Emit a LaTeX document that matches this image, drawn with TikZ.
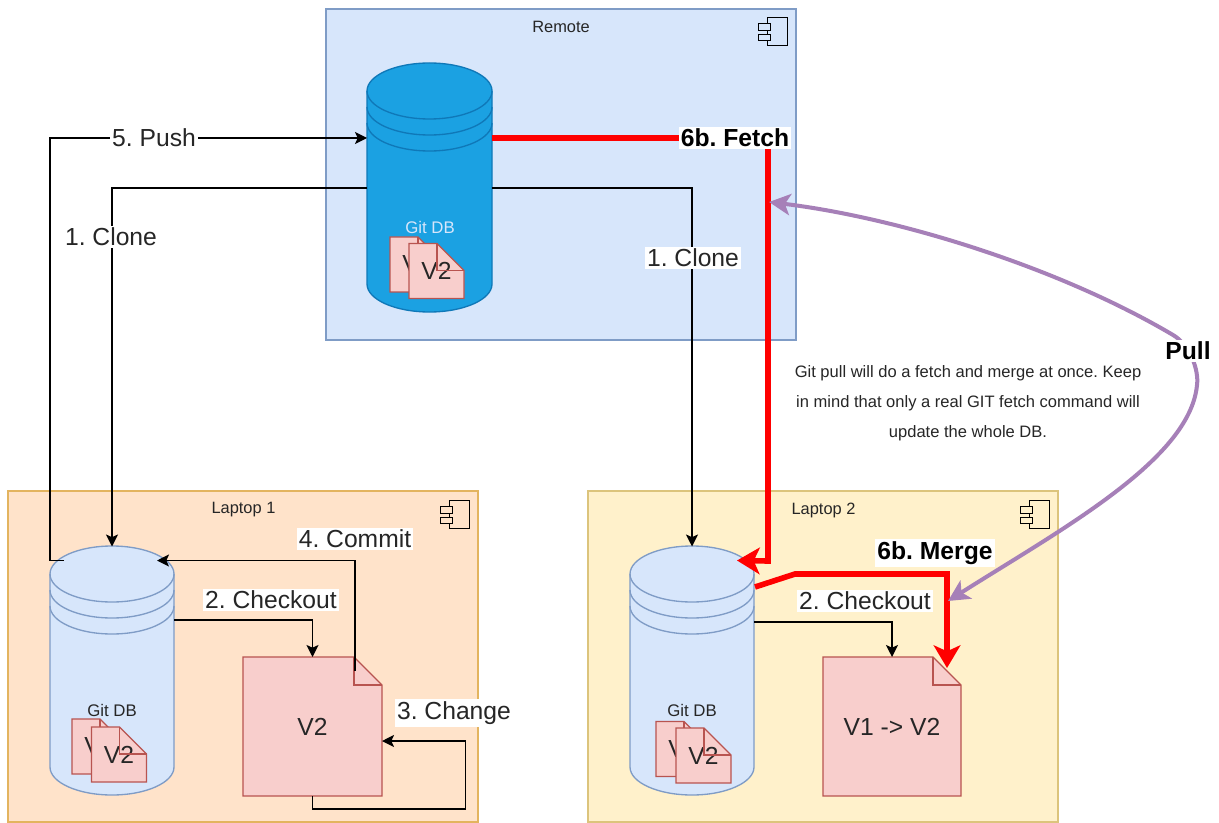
\documentclass[tikz,border=0pt]{standalone}
\usepackage{fontspec}
\setmainfont{Liberation Sans}
\frenchspacing
\usetikzlibrary{calc,arrows.meta}
\definecolor{blueF}{HTML}{D7E6FB}
\definecolor{blueS}{HTML}{7F9CC6}
\definecolor{orangeF}{HTML}{FFE3CA}
\definecolor{orangeS}{HTML}{E3B45F}
\definecolor{yellowF}{HTML}{FFF1CB}
\definecolor{yellowS}{HTML}{DCC47C}
\definecolor{cylS}{HTML}{0F78B8}
\definecolor{cylF}{HTML}{1BA1E2}
\definecolor{docF}{HTML}{F8CECC}
\definecolor{docS}{HTML}{B85450}
\definecolor{pullC}{HTML}{A680B8}
\definecolor{inkC}{HTML}{262626}
\tikzset{
  x=0.75pt,y=0.75pt,
  boxframe/.style={draw=#1,line width=1pt},
  anchorbox/.style={inner sep=0pt,outer sep=0pt},
  boxtitle/.style={font=\fontsize{12.3}{14}\selectfont,text=inkC,inner sep=0pt},
  dbtext/.style={font=\fontsize{12.6}{14}\selectfont,inner sep=0pt},
  doctext/.style={font=\fontsize{18.5}{20}\selectfont,text=inkC,inner sep=0pt},
  flow/.style={draw=black,line width=1.1pt,-{Stealth[length=9pt,width=9pt,inset=2pt]}},
  plainflow/.style={draw=black,line width=1.1pt},
  redflow/.style={draw=red,line width=4.2pt,line join=miter,-{Stealth[length=17pt,width=20pt,inset=4.5pt]}},
  pullflow/.style={draw=pullC,line width=3pt,{Stealth[length=16pt,width=16pt,inset=4pt]}-{Stealth[length=16pt,width=16pt,inset=4pt]}},
  steplabel/.style={font=\fontsize{18.5}{20}\selectfont,text=inkC,fill=white,inner sep=1.6pt},
  boldlabel/.style={font=\fontsize{18.5}{20}\selectfont\bfseries,text=black,fill=white,inner sep=1.6pt},
}
% #1 name, #2 x0, #3 y0 (top), #4 x1, #5 y1 (bottom), #6 fill, #7 stroke
\newcommand{\compbox}[7]{%
  \node[anchorbox,minimum width={(#4-#2)*0.75pt},minimum height={(#5-#3)*0.75pt},
        fill=#6,boxframe=#7] (#1) at ({(#2+#4)/2},{-(#3+#5)/2}) {};
  \begin{scope}[shift={(#1.north east)}]
    \draw[black,line width=0.75pt,fill=none] (-29,-9) rectangle (-9,-37);
    \draw[black,line width=0.75pt,fill=#6] (-38,-15) rectangle (-26,-22);
    \draw[black,line width=0.75pt,fill=#6] (-38,-26) rectangle (-26,-32);
  \end{scope}}
% #1 name, #2 cx, #3 cy, #4 half width, #5 fill, #6 stroke
\newcommand{\dbcyl}[6]{%
  \node[anchorbox,minimum width={2*#4*0.75pt},minimum height={249*0.75pt}] (#1) at (#2,-#3) {};
  \begin{scope}[shift={(#1.center)}]
    \draw[draw=#6,line width=1pt,fill=#5] (-#4,97) -- (-#4,-96)
       arc[start angle=180,end angle=360,x radius=#4,y radius=28] -- (#4,97)
       arc[start angle=0,end angle=180,x radius=#4,y radius=28] -- cycle;
    \draw[draw=#6,line width=1pt] (-#4,97) arc[start angle=180,end angle=360,x radius=#4,y radius=28];
    \draw[draw=#6,line width=1pt] (-#4,81) arc[start angle=180,end angle=360,x radius=#4,y radius=28];
    \draw[draw=#6,line width=1pt] (-#4,65) arc[start angle=180,end angle=360,x radius=#4,y radius=28];
  \end{scope}}
% #1 name, #2 cx, #3 cy, #4 w, #5 h, #6 fold, #7 text
\newcommand{\docshape}[7]{%
  \node[anchorbox,minimum width={#4*0.75pt},minimum height={#5*0.75pt}] (#1) at (#2,-#3) {};
  \draw[draw=docS,line width=1pt,fill=docF]
     (#1.north west) -- ($(#1.north east)+(-#6,0)$) -- ($(#1.north east)+(0,-#6)$)
     -- (#1.south east) -- (#1.south west) -- cycle;
  \node[doctext] (#1-t) at (#1.center) {#7};
  \draw[draw=docS,line width=1pt] ($(#1.north east)+(-#6,0)$) -- ($(#1.north east)+(-#6,-#6)$) -- ($(#1.north east)+(0,-#6)$);}
\begin{document}
\begin{tikzpicture}
\useasboundingbox (0,0) rectangle (1219,-823);
\fill[white] (0,0) rectangle (1219,-823);

\compbox{remote}{326}{9}{796}{340}{blueF}{blueS}
\compbox{laptopA}{8}{491}{478}{822}{orangeF}{orangeS}
\compbox{laptopB}{588}{491}{1058}{822}{yellowF}{yellowS}

\node[boxtitle] (remoteT) at (561,-27) {Remote};
\node[boxtitle] (laptopAT) at (243.5,-510) {Laptop 1};
\node[boxtitle] (laptopBT) at (823.5,-510) {Laptop 2};

\dbcyl{dbR}{429.5}{188}{62.5}{cylF}{cylS}
\dbcyl{dbA}{112}{671}{62}{blueF}{blueS}
\dbcyl{dbB}{692}{671}{62}{blueF}{blueS}

\node[dbtext,text=blueF] (gitR) at (430,-227) {Git DB};
\node[dbtext,text=inkC] (gitA) at (112,-710) {Git DB};
\node[dbtext,text=inkC] (gitB) at (692,-710) {Git DB};

\docshape{smallRb}{417.5}{264.5}{55}{55}{27}{V1}
\docshape{smallRf}{436.5}{271}{55}{55}{27}{V2}
\docshape{smallAb}{99.5}{746.5}{55}{55}{27}{V1}
\docshape{smallAf}{119}{754.5}{55}{55}{27}{V2}
\docshape{smallBb}{683.5}{749}{55}{55}{27}{V1}
\docshape{smallBf}{703.5}{755.5}{55}{55}{27}{V2}
\docshape{docA}{312.5}{726.5}{139}{139}{28}{V2}
\docshape{docB}{892}{726.5}{138}{139}{28}{V1 -> V2}

% black connectors
\draw[flow] ($(dbA.north)+(-48,-14)$) -| ($(dbA.north west)+(0,-14)$) |- (dbR.west |- 0,-138);
\draw[flow] (dbR.west) -| (dbA.north);
\draw[flow] (dbR.east) -| (dbB.north);
\draw[flow] ($(dbA.east)+(0,51)$) -| (docA.north);
\draw[flow] ($(docA.north east)+(-27,-14)$) |- ($(dbA.north)+(45,-14)$);
\draw[plainflow] (docA.south) -- ++(0,-13) -- ++(153,0) -- ++(0,68);
\draw[flow] ($(docA.south)+(153,55)$) -- ($(docA.east)+(0,-14.5)$);
\draw[flow] ($(dbB.east)+(0,49)$) -| (docB.north);

% red connectors
\draw[redflow] (dbR.east |- 0,-138) -- (768,-138) -- (768,-561) -- ($(dbB.north)+(45,-14)$);
\draw[redflow] ($(dbB.east)+(1,84)$) -- (795,-574) -- (947,-574) -- ($(docB.north east)+(-14,-11)$);

% pull connector
\coordinate (pullEnd) at (948,-601);
\coordinate (pullTip) at (769,-202);
\draw[pullflow] (pullEnd) .. controls (1060,-530) and (1190,-460) .. (1197,-385)
   .. controls (1199,-370) and (1190,-345) .. (1173,-335)
   .. controls (1060,-268) and (900,-218) .. (pullTip);

% labels
\node[steplabel] (lPush) at (154,-138) {5. Push};
\node[steplabel] (lCloneA) at (111,-237) {1. Clone};
\node[steplabel] (lCloneB) at (693,-258) {1. Clone};
\node[steplabel] (lCheckA) at (271,-600) {2. Checkout};
\node[steplabel] (lCommit) at (355,-539) {4. Commit};
\node[steplabel] (lChange) at (454,-713) {3. Change};
\node[steplabel] (lCheckB) at (865,-601) {2. Checkout};
\node[boldlabel] (lFetch) at (735,-138) {6b. Fetch};
\node[boldlabel] (lMerge) at (935,-553) {6b. Merge};
\node[boldlabel] (lPull) at (1188,-351) {Pull};
\node[font=\fontsize{12.4}{22.5}\selectfont,text=inkC,align=center,inner sep=0pt] (note) at (968,-403)
  {Git pull will do a fetch and merge at once. Keep\\in mind that only a real GIT fetch command will\\update the whole DB.};
\end{tikzpicture}
\end{document}
